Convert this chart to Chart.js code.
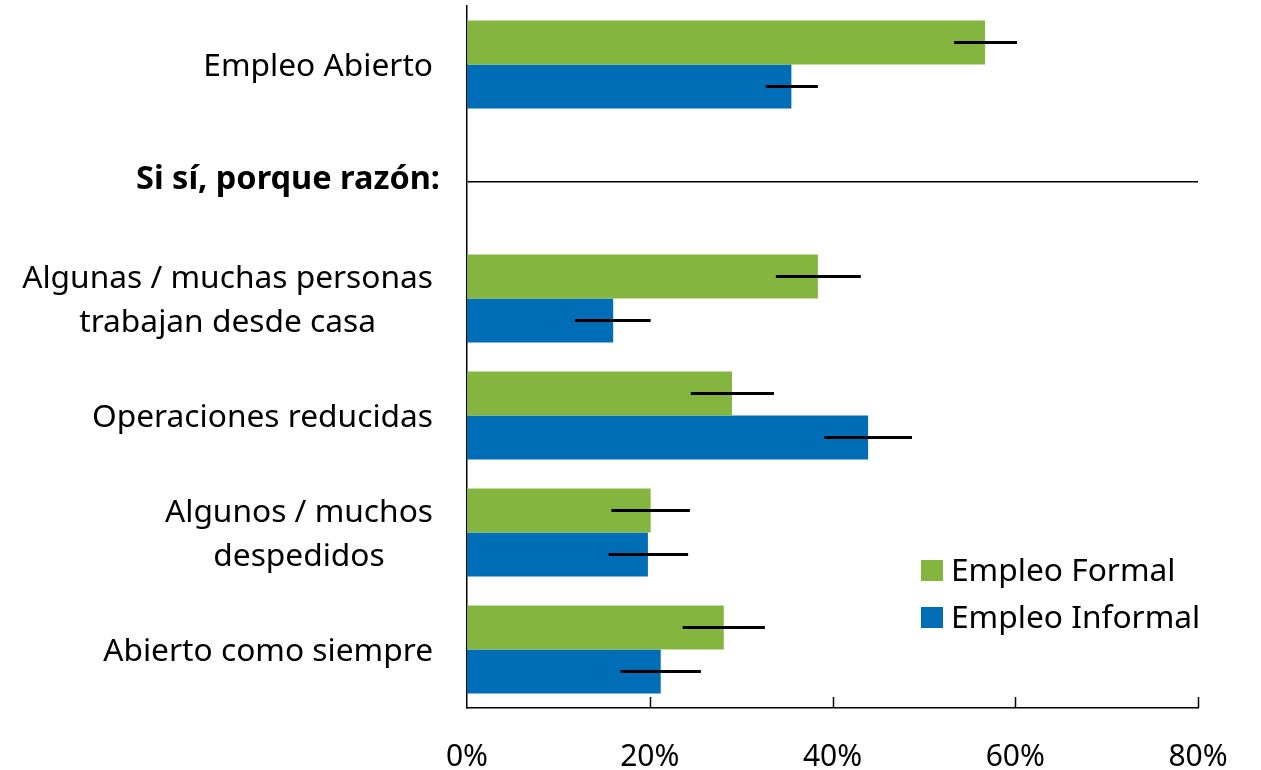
<!DOCTYPE html>
<html>
<head>
<meta charset="utf-8">
<script src="https://cdn.jsdelivr.net/npm/chart.js@4"></script>
<style>
  html, body { margin: 0; padding: 0; background: #fff; }
  #wrap { width: 1261px; height: 770px; position: relative; }
</style>
</head>
<body>
<div id="wrap"><canvas id="chart" width="1261" height="770"></canvas></div>
<script>
// categories, with multi-line labels as arrays
const categories = [
  ["Empleo Abierto"],
  ["Si sí, porque razón:"],
  ["Algunas / muchas personas", "trabajan desde casa"],
  ["Operaciones reducidas"],
  ["Algunos / muchos", "despedidos"],
  ["Abierto como siempre"]
];
const headerIndex = 1;

const seriesNames = ["Empleo Formal", "Empleo Informal"];
const seriesColors = ["#84B53F", "#006DB7"];

const formal = [56.7, null, 38.4, 29.0, 20.1, 28.1];
const informal = [35.5, null, 16.0, 43.9, 19.8, 21.2];

// confidence intervals
const formalLow = [53.3, null, 33.8, 24.5, 15.8, 23.6];
const formalHigh = [60.2, null, 43.1, 33.6, 24.4, 32.6];
const informalLow = [32.7, null, 11.8, 39.1, 15.5, 16.8];
const informalHigh = [38.4, null, 20.1, 48.7, 24.2, 25.6];

const xTicks = [0, 20, 40, 60, 80];

const FONT = "'Noto Sans', sans-serif";
const LABEL_SIZE = 31.7;

// y labels: right-aligned block, lines centred within it
const yLabelsPlugin = {
  id: "yLabels",
  afterDraw(chart) {
    const ctx = chart.ctx;
    const y = chart.scales.y;
    ctx.save();
    ctx.fillStyle = "#000";
    ctx.textBaseline = "middle";
    ctx.textAlign = "center";
    categories.forEach((lines, i) => {
      const bold = i === headerIndex;
      ctx.font = bold ? "bold 32.5px " + FONT : LABEL_SIZE + "px " + FONT;
      const right = bold ? 440 : 433;
      const w = Math.max(...lines.map(l => ctx.measureText(l).width));
      const cx = right - w / 2;
      const lh = 44;
      const cy = y.getPixelForValue(i) + (bold ? -2 : 2);
      lines.forEach((l, k) => {
        ctx.fillText(l, cx, cy + (k - (lines.length - 1) / 2) * lh);
      });
    });
    ctx.restore();
  }
};

// error bars at the centre of each bar + inner ticks on x axis
const errorBarsPlugin = {
  id: "errorBars",
  afterDatasetsDraw(chart) {
    const ctx = chart.ctx;
    const x = chart.scales.x;
    const ranges = [[formalLow, formalHigh], [informalLow, informalHigh]];
    ctx.save();
    ctx.strokeStyle = "#000";
    ctx.lineWidth = 3;
    ranges.forEach((r, d) => {
      const meta = chart.getDatasetMeta(d);
      meta.data.forEach((bar, i) => {
        if (r[0][i] == null) return;
        ctx.beginPath();
        ctx.moveTo(x.getPixelForValue(r[0][i]), bar.y);
        ctx.lineTo(x.getPixelForValue(r[1][i]), bar.y);
        ctx.stroke();
      });
    });
    // tick marks pointing up into the plot
    ctx.lineWidth = 1.5;
    const bottom = chart.chartArea.bottom;
    xTicks.slice(1).forEach(v => {
      const px = Math.round(x.getPixelForValue(v)) + 0.5;
      ctx.beginPath();
      ctx.moveTo(px, bottom - 11);
      ctx.lineTo(px, bottom);
      ctx.stroke();
    });
    ctx.restore();
  }
};

const legendPlugin = {
  id: "boxLegend",
  afterDraw(chart) {
    const ctx = chart.ctx;
    ctx.save();
    ctx.font = LABEL_SIZE + "px " + FONT;
    ctx.textBaseline = "middle";
    ctx.textAlign = "left";
    seriesNames.forEach((name, i) => {
      const top = 560 + i * 47;
      ctx.fillStyle = seriesColors[i];
      ctx.fillRect(921, top, 22, 21);
      ctx.fillStyle = "#000";
      ctx.fillText(name, 951, top + 12);
    });
    ctx.restore();
  }
};

new Chart(document.getElementById("chart"), {
  type: "bar",
  plugins: [yLabelsPlugin, errorBarsPlugin, legendPlugin],
  data: {
    labels: categories.map(c => c.join(" ")),
    datasets: [
      { label: seriesNames[0], data: formal, backgroundColor: seriesColors[0] },
      { label: seriesNames[1], data: informal, backgroundColor: seriesColors[1] }
    ]
  },
  options: {
    indexAxis: "y",
    responsive: false,
    animation: false,
    devicePixelRatio: 1,
    categoryPercentage: 0.752,
    barPercentage: 1,
    layout: { padding: { top: 6, right: 63, left: 0, bottom: 0 } },
    plugins: { legend: { display: false }, tooltip: { enabled: false } },
    scales: {
      x: {
        min: 0,
        max: 80,
        afterBuildTicks: s => { s.ticks = xTicks.map(v => ({ value: v })); },
        afterFit: s => { s.height = 62; },
        grid: { display: false },
        border: { display: true, color: "#000", width: 1.5 },
        ticks: {
          color: "#000",
          padding: 23,
          font: { family: FONT, size: 30 },
          callback: v => v + "%",
          maxRotation: 0
        }
      },
      y: {
        afterFit: s => { s.width = 467; },
        ticks: { display: false },
        grid: {
          offset: false,
          drawTicks: false,
          lineWidth: 1.5,
          color: ctx => ctx.index === headerIndex ? "#000" : "rgba(0,0,0,0)"
        },
        border: { display: true, color: "#000", width: 1.5 }
      }
    }
  }
});
</script>
</body>
</html>
